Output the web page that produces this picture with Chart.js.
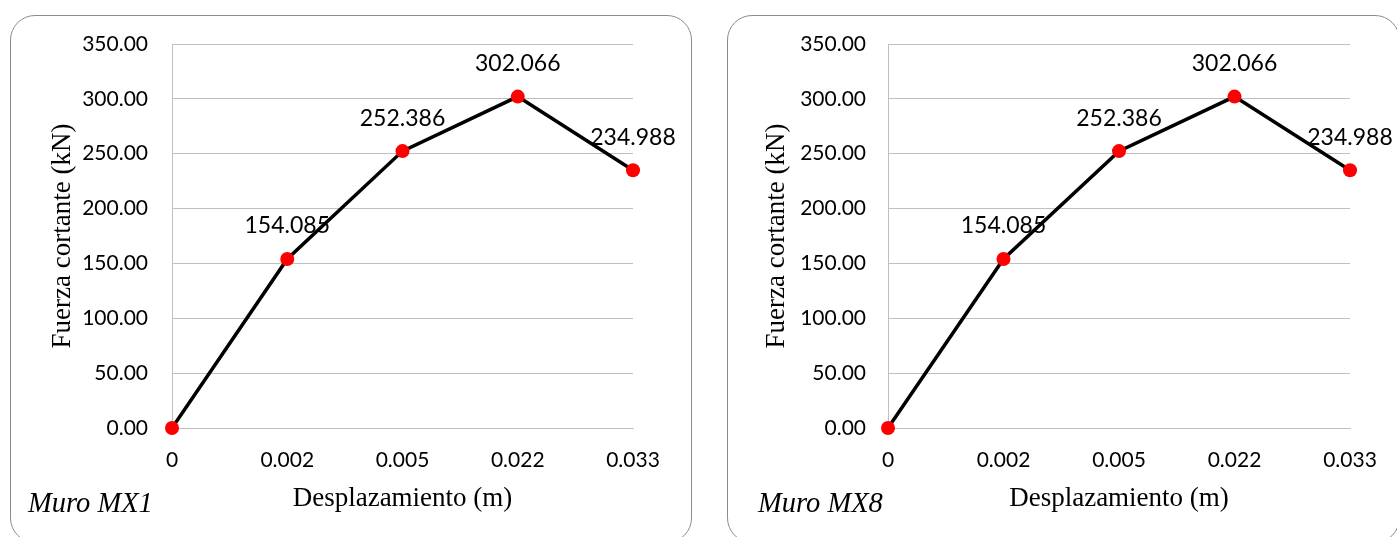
<!DOCTYPE html>
<html>
<head>
<meta charset="utf-8">
<script src="https://cdn.jsdelivr.net/npm/chart.js@4.4.1/dist/chart.umd.min.js"></script>
<style>
  html, body { margin: 0; padding: 0; background: #fff; overflow: hidden; }
  body { width: 1397px; height: 537px; position: relative; }
  .panel {
    position: absolute; top: 15px; height: 528px;
    border: 1.5px solid #8c8c8c; border-radius: 25px; box-sizing: border-box;
    background: #fff;
  }
  canvas { position: absolute; top: 0; }
  .caption {
    position: absolute; top: 489px;
    font-family: "Liberation Serif", serif; font-style: italic;
    font-size: 28.5px; line-height: 28.5px; color: #000; white-space: nowrap;
  }
</style>
</head>
<body>
<div class="panel" style="left:10px; width:682px;"></div>
<div class="panel" style="left:727px; width:673px;"></div>
<canvas id="chartMX1" width="700" height="537" style="left:0px;"></canvas>
<canvas id="chartMX8" width="697" height="537" style="left:700px;"></canvas>
<div class="caption" style="left:28px;">Muro MX1</div>
<div class="caption" style="left:758px;">Muro MX8</div>
<script>
// Displacement steps (category axis) and shear force per wall
const displacementLabels = ['0', '0.002', '0.005', '0.022', '0.033'];
const shearMX1 = [0, 154.085, 252.386, 302.066, 234.988];
const shearMX8 = [0, 154.085, 252.386, 302.066, 234.988];
const shearMin = 0;
const shearMax = 350;
const shearStep = 50;

const xTitle = 'Desplazamiento (m)';
const yTitle = 'Fuerza cortante (kN)';

// Writes each non-zero value above its point
const valueLabels = {
  id: 'valueLabels',
  afterDatasetsDraw(chart) {
    const ctx = chart.ctx;
    const meta = chart.getDatasetMeta(0);
    const data = chart.data.datasets[0].data;
    ctx.save();
    ctx.font = '23px Lato';
    ctx.fillStyle = '#000';
    ctx.textAlign = 'center';
    ctx.textBaseline = 'middle';
    meta.data.forEach((pt, i) => {
      if (data[i] === 0) return;
      ctx.fillText(data[i].toFixed(3), pt.x, pt.y - 33);
    });
    ctx.restore();
  }
};

function buildChart(id, values, g) {
  return new Chart(document.getElementById(id), {
    type: 'line',
    data: {
      labels: displacementLabels,
      datasets: [{
        data: values,
        borderColor: '#000',
        borderWidth: 3.5,
        pointRadius: 7,
        pointHoverRadius: 7,
        pointBackgroundColor: '#ff0000',
        pointBorderColor: '#ff0000',
        pointBorderWidth: 0,
        tension: 0,
        clip: false
      }]
    },
    options: {
      responsive: false,
      animation: false,
      events: [],
      layout: { padding: { top: 44, right: g.padRight, bottom: 0, left: 0 } },
      plugins: { legend: { display: false }, tooltip: { enabled: false } },
      scales: {
        x: {
          type: 'category',
          offset: false,
          grid: { display: false },
          border: { display: true, color: '#bfbfbf', width: 1 },
          ticks: { color: '#000', font: { family: 'Lato', size: 21 }, padding: 12, maxRotation: 0, autoSkip: false },
          title: {
            display: true, text: xTitle, color: '#000',
            font: { family: 'Liberation Serif', size: 27 },
            padding: { top: 0, bottom: 22 }
          },
          afterFit(scale) { scale.height = 109; }
        },
        y: {
          min: shearMin, max: shearMax,
          grid: { color: '#bfbfbf', lineWidth: 1, drawTicks: false },
          border: { display: true, color: '#bfbfbf', width: 1 },
          ticks: {
            stepSize: shearStep, color: '#000', padding: g.tickPad,
            font: { family: 'Lato', size: 21 },
            callback: (v) => Number(v).toFixed(2)
          },
          title: {
            display: true, text: yTitle, color: '#000',
            font: { family: 'Liberation Serif', size: 27 },
            padding: { top: g.titlePad, bottom: 0 }
          },
          afterFit(scale) { scale.width = g.axisWidth; }
        }
      }
    },
    plugins: [valueLabels]
  });
}

buildChart('chartMX1', shearMX1, { axisWidth: 172, padRight: 67, tickPad: 24, titlePad: 47 });
buildChart('chartMX8', shearMX8, { axisWidth: 188, padRight: 47, tickPad: 22, titlePad: 61 });
</script>
</body>
</html>
